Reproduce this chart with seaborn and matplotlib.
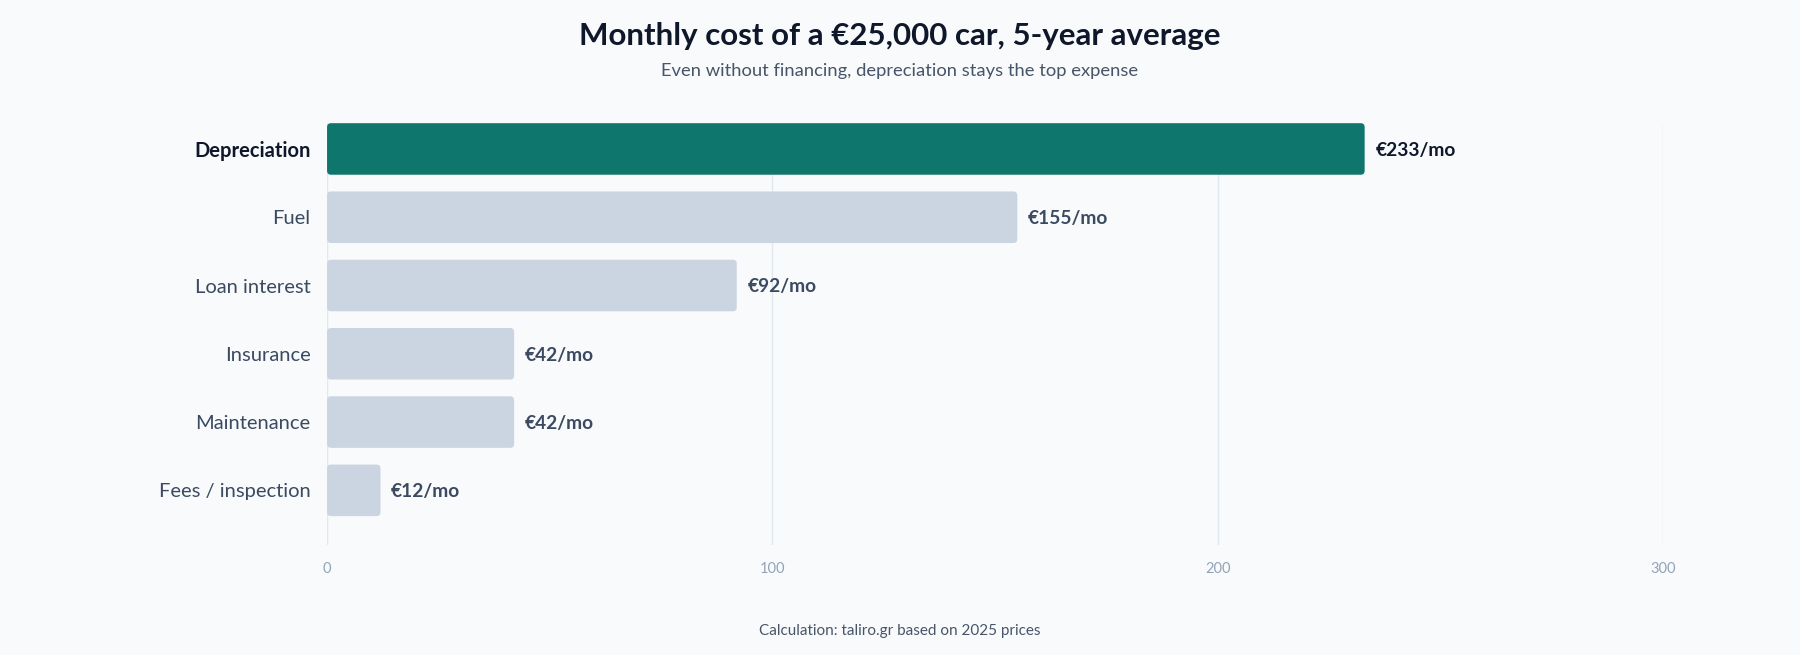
import pandas as pd
import seaborn as sns
import matplotlib.pyplot as plt
from matplotlib.patches import FancyBboxPatch


categories = ["Depreciation", "Fuel", "Loan interest", "Insurance", "Maintenance", "Fees / inspection"]
monthly_cost = [233, 155, 92, 42, 42, 12]
x_ticks = [0, 100, 200, 300]

title = "Monthly cost of a €25,000 car, 5-year average"
subtitle = "Even without financing, depreciation stays the top expense"
footer = "Calculation: taliro.gr based on 2025 prices"

bg = "#F8FAFB"
teal = "#0F766E"
grey = "#CBD5E1"

sns.set_theme(style="white")
plt.rcParams['font.family'] = ['Lato', 'DejaVu Sans']

df = pd.DataFrame({"item": categories, "cost": monthly_cost})
df["top"] = ["yes"] + ["no"] * (len(df) - 1)

fig = plt.figure(figsize=(18, 6.55), dpi=100, facecolor=bg)
ax = fig.add_axes([0.1817, 0.168, 0.9239 - 0.1817, 0.8122 - 0.168])
ax.set_facecolor(bg)

sns.barplot(data=df, x="cost", y="item", hue="top", palette={"yes": teal, "no": grey},
            dodge=False, legend=False, width=0.755, ax=ax, saturation=1)

ax.set_xlim(0, 300)
ax.set_ylim(5.8, -0.38)

# swap rectangles for rounded ones
px_x = (ax.get_position().width * 1800) / 300
px_y = (ax.get_position().height * 655) / 6.18
r = 4
for p in list(ax.patches):
    x, y = p.get_x(), p.get_y()
    w, h = p.get_width(), p.get_height()
    if w == 0 or pd.isna(w):
        p.remove()
        continue
    fb = FancyBboxPatch((x, y), w, h,
                        boxstyle=f"round,pad=0,rounding_size={r / px_x}",
                        mutation_aspect=(px_x / px_y),
                        facecolor=p.get_facecolor(), edgecolor="none", zorder=3)
    p.remove()
    ax.add_patch(fb)

for i, v in enumerate(monthly_cost):
    ax.text(v + 2.4, i + 0.02, f"€{v}/mo", va="center", ha="left", fontsize=13.8, fontweight="bold",
            color="#0F172A" if i == 0 else "#3B4A61", zorder=4)

ax.set_xticks(x_ticks)
ax.set_xticklabels([str(t) for t in x_ticks])
ax.grid(axis="x", color="#E2E8F0", linewidth=1, zorder=0)
ax.set_axisbelow(True)
for s in ax.spines.values():
    s.set_visible(False)
ax.tick_params(axis="x", length=0, pad=12, labelsize=10.5, labelcolor="#94A3B8")
ax.tick_params(axis="y", length=0, pad=12, labelsize=14.5, labelcolor="#3B4A61")
ax.set_xlabel("")
ax.set_ylabel("")
for lab in ax.get_yticklabels():
    if lab.get_text() == categories[0]:
        lab.set_fontweight("bold")
        lab.set_color("#0F172A")

fig.text(0.5, 1 - 36 / 655, title, ha="center", va="center", fontsize=22.5,
         fontweight="bold", color="#0F172A")
fig.text(0.5, 1 - 71 / 655, subtitle, ha="center", va="center", fontsize=13.2, color="#475569")
fig.text(0.5, 1 - 631 / 655, footer, ha="center", va="center", fontsize=11, color="#475569")

fig.savefig("out.png", dpi=100, facecolor=bg)
